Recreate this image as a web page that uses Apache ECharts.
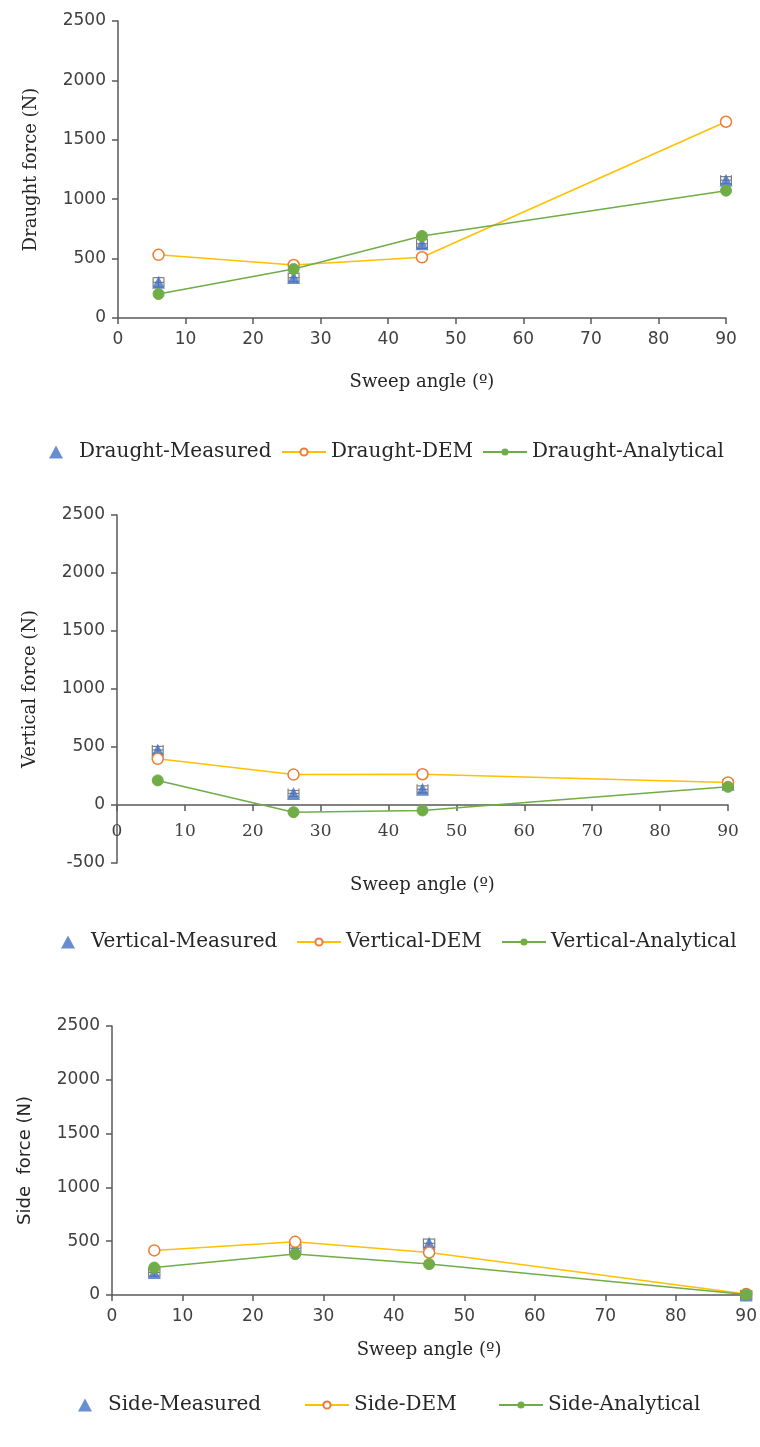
<!DOCTYPE html>
<html>
<head>
<meta charset="utf-8">
<script src="https://cdn.jsdelivr.net/npm/echarts@6/dist/echarts.min.js"></script>
<style>
  html, body { margin: 0; padding: 0; background: #fff; }
  #chart { width: 760px; height: 1447px; }
</style>
</head>
<body>
<div id="chart"></div>
<script>
// sweep angles (x)
const sweepAngle = [6, 26, 45, 90];

// draught force (N)
const draughtMeasured = [300, 340, 625, 1160];
const draughtDEM = [532, 446, 511, 1652];
const draughtAnalytical = [202, 412, 690, 1072];
const draughtError = [40, 35, 40, 30];

// vertical force (N)
const verticalMeasured = [475, 100, 135, 178];
const verticalDEM = [398, 262, 265, 195];
const verticalAnalytical = [212, -62, -47, 157];
const verticalError = [30, 25, 30, 25];

// side force (N)
const sideMeasured = [210, 435, 480, 0];
const sideDEM = [414, 494, 395, 10];
const sideAnalytical = [255, 380, 287, 5];
const sideError = [35, 40, 40, 20];

const blue = '#4472C4';
const gold = '#FFC000';
const orange = '#ED7D31';
const green = '#70AD47';
const axisGrey = '#595959';
const textGrey = '#404040';
const serif = '"DejaVu Serif", serif';
const sans = '"DejaVu Sans", sans-serif';

const pairs = (ys) => sweepAngle.map((x, i) => [x, ys[i]]);
const errPairs = (ys, es) => sweepAngle.map((x, i) => [x, ys[i] - es[i], ys[i] + es[i], ys[i]]);

// error bars of the measured points (vertical + small horizontal)
function errorBars(params, api) {
  const x = api.value(0);
  const lo = api.coord([x, api.value(1)]);
  const hi = api.coord([x, api.value(2)]);
  const mid = api.coord([x, api.value(3)]);
  const l = api.coord([x - 0.8, api.value(3)]);
  const r = api.coord([x + 0.8, api.value(3)]);
  const st = { stroke: '#7f7f7f', lineWidth: 1.2 };
  const c = 5;
  return {
    type: 'group',
    children: [
      { type: 'line', shape: { x1: lo[0], y1: lo[1], x2: hi[0], y2: hi[1] }, style: st },
      { type: 'line', shape: { x1: lo[0] - c, y1: lo[1], x2: lo[0] + c, y2: lo[1] }, style: st },
      { type: 'line', shape: { x1: hi[0] - c, y1: hi[1], x2: hi[0] + c, y2: hi[1] }, style: st },
      { type: 'line', shape: { x1: l[0], y1: mid[1], x2: r[0], y2: mid[1] }, style: st },
      { type: 'line', shape: { x1: l[0], y1: mid[1] - c, x2: l[0], y2: mid[1] + c }, style: st },
      { type: 'line', shape: { x1: r[0], y1: mid[1] - c, x2: r[0], y2: mid[1] + c }, style: st }
    ]
  };
}

function xAxisCfg(idx, gap, labelFont, labelMargin) {
  return {
    gridIndex: idx,
    type: 'value',
    min: 0, max: 90, interval: 10,
    name: 'Sweep angle (º)',
    nameLocation: 'middle',
    nameGap: gap,
    nameTextStyle: { fontFamily: serif, fontSize: 18, color: '#262626' },
    axisLine: { onZero: true, lineStyle: { color: axisGrey, width: 1.5 } },
    axisTick: { show: true, length: 6, lineStyle: { color: axisGrey, width: 1.5 } },
    axisLabel: { fontFamily: labelFont, fontSize: 17, color: textGrey, margin: labelMargin },
    splitLine: { show: false }
  };
}

function yAxisCfg(idx, name, min, gap, nameFont) {
  return {
    gridIndex: idx,
    type: 'value',
    min: min, max: 2500, interval: 500,
    name: name,
    nameLocation: 'middle',
    nameGap: gap,
    nameTextStyle: { fontFamily: nameFont, fontSize: 18, color: '#262626' },
    axisLine: { show: true, lineStyle: { color: axisGrey, width: 1.5 } },
    axisTick: { show: true, length: 6, lineStyle: { color: axisGrey, width: 1.5 } },
    axisLabel: {
      fontFamily: sans, fontSize: 17, color: textGrey, margin: 12,
      formatter: (v) => String(v)
    },
    splitLine: { show: false }
  };
}

function seriesSet(idx, prefix, meas, dem, ana, err) {
  return [
    {
      name: prefix + '-Measured', type: 'scatter', xAxisIndex: idx, yAxisIndex: idx,
      symbol: 'triangle', symbolSize: 13, z: 3,
      itemStyle: { color: blue },
      data: pairs(meas)
    },
    {
      type: 'custom', xAxisIndex: idx, yAxisIndex: idx, z: 2,
      renderItem: errorBars,
      data: errPairs(meas, err)
    },
    {
      name: prefix + '-DEM', type: 'line', xAxisIndex: idx, yAxisIndex: idx,
      symbol: 'circle', symbolSize: 11, z: 4,
      lineStyle: { color: gold, width: 1.5 },
      itemStyle: { color: '#fff', borderColor: orange, borderWidth: 1.5 },
      data: pairs(dem)
    },
    {
      name: prefix + '-Analytical', type: 'line', xAxisIndex: idx, yAxisIndex: idx,
      symbol: 'circle', symbolSize: 11, z: 5,
      lineStyle: { color: green, width: 1.5 },
      itemStyle: { color: green, borderColor: green },
      data: pairs(ana)
    }
  ];
}

// one legend per entry so every item sits where it does in the figure
function legendItem(name, left, top, isMarker) {
  return {
    left: left, top: top, padding: 0,
    itemWidth: isMarker ? 14 : 44,
    itemHeight: isMarker ? 13 : 9,
    textStyle: {
      fontFamily: serif, fontSize: 20, color: '#262626',
      padding: isMarker ? [0, 0, 0, 11] : 0
    },
    data: isMarker ? [{ name: name, icon: 'triangle' }] : [name]
  };
}

const myChart = echarts.init(document.getElementById('chart'));
const option = {
  animation: false,
  backgroundColor: '#fff',
  grid: [
    { left: 118, top: 21, width: 608, height: 297 },
    { left: 117, top: 515, width: 611, height: 348 },
    { left: 112, top: 1026, width: 636, height: 269 }
  ],
  xAxis: [
    xAxisCfg(0, 55, sans, 13),
    xAxisCfg(1, 13, serif, -40),
    xAxisCfg(2, 46, sans, 13)
  ],
  yAxis: [
    yAxisCfg(0, 'Draught force (N)', 0, 78, serif),
    yAxisCfg(1, 'Vertical force (N)', -500, 78, serif),
    yAxisCfg(2, 'Side  force (N)', 0, 78, sans)
  ],
  legend: [
    legendItem('Draught-Measured', 49, 442, true),
    legendItem('Draught-DEM', 281, 442, false),
    legendItem('Draught-Analytical', 482, 442, false),
    legendItem('Vertical-Measured', 61, 932, true),
    legendItem('Vertical-DEM', 296, 932, false),
    legendItem('Vertical-Analytical', 501, 932, false),
    legendItem('Side-Measured', 78, 1395, true),
    legendItem('Side-DEM', 304, 1395, false),
    legendItem('Side-Analytical', 498, 1395, false)
  ],
  series: [
    ...seriesSet(0, 'Draught', draughtMeasured, draughtDEM, draughtAnalytical, draughtError),
    ...seriesSet(1, 'Vertical', verticalMeasured, verticalDEM, verticalAnalytical, verticalError),
    ...seriesSet(2, 'Side', sideMeasured, sideDEM, sideAnalytical, sideError)
  ]
};
myChart.setOption(option);
window.addEventListener('resize', function () {
  myChart.resize();
});
</script>
</body>
</html>
